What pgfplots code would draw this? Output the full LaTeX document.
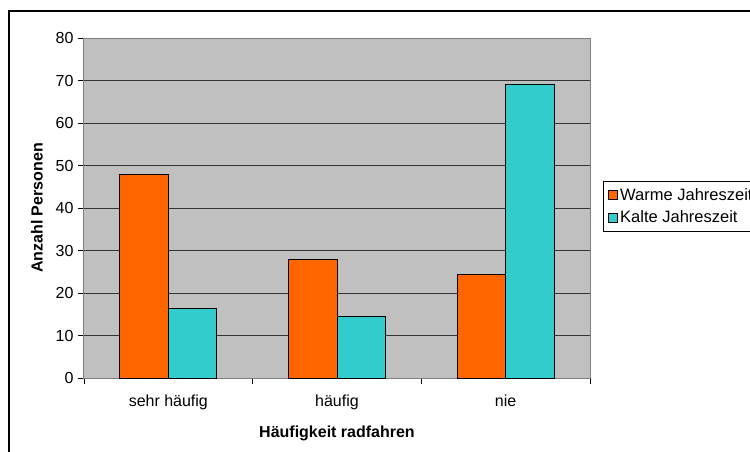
\documentclass[border=0pt]{standalone}
\usepackage{pgfplots}
\pgfplotsset{compat=1.18}
\usepackage{fontspec}
\setmainfont{Liberation Sans}
\definecolor{warm}{HTML}{FF6600}
\definecolor{kalt}{HTML}{33CCCC}
\definecolor{plotbg}{HTML}{C0C0C0}
\definecolor{frm}{HTML}{808080}
\begin{document}
\begin{tikzpicture}[x=1pt,y=1pt]
\useasboundingbox (0,0) rectangle (750,451);
\draw[black, line width=1.2pt] (9,-20) rectangle (790,440);
\begin{axis}[
  at={(84pt,73pt)}, anchor=south west,
  scale only axis, width=506pt, height=340pt,
  ymin=0, ymax=80, ytick={0,10,...,80},
  xmin=-0.5, xmax=2.5,
  xtick={-0.5,0.5,1.5,2.5}, xticklabels={},
  extra x ticks={0,1,2},
  extra x tick labels={sehr häufig,häufig,nie},
  extra x tick style={major tick length=0pt, tick label style={yshift=-13pt}},
  ybar=0pt, bar width=48.5pt,
  axis background/.style={fill=plotbg},
  axis line style={draw=frm, line width=1pt},
  tick align=outside, major tick length=6pt,
  tick style={black, line width=0.8pt},
  xtick pos=bottom, ytick pos=left,
  ymajorgrids, grid style={black!80, line width=0.8pt},
  /pgf/number format/assume math mode=true,
  tick label style={font=\fontsize{16}{19}\selectfont},
  yticklabel style={xshift=-1pt},
  xlabel={Häufigkeit radfahren},
  ylabel={Anzahl Personen},
  label style={font=\bfseries\fontsize{16}{19}\selectfont},
  xlabel style={yshift=-4pt},
  ylabel style={yshift=6pt},
  legend style={at={(1.0257,0.579)}, anchor=north west, draw=black, fill=white,
    font=\fontsize{16.5}{19}\selectfont, row sep=5pt, inner xsep=5pt, inner ysep=5pt, line width=0.8pt},
  legend cell align=left,
  legend image code/.code={\draw[#1, line width=0.8pt] (0pt,-4.5pt) rectangle (9pt,4.5pt);},
]
\addplot[fill=warm, draw=black, line width=0.8pt] coordinates {(0,47.8) (1,27.8) (2,24.3)};
\addplot[fill=kalt, draw=black, line width=0.8pt] coordinates {(0,16.3) (1,14.5) (2,69.2)};
\legend{Warme Jahreszeit, Kalte Jahreszeit}
\end{axis}
\end{tikzpicture}
\end{document}
